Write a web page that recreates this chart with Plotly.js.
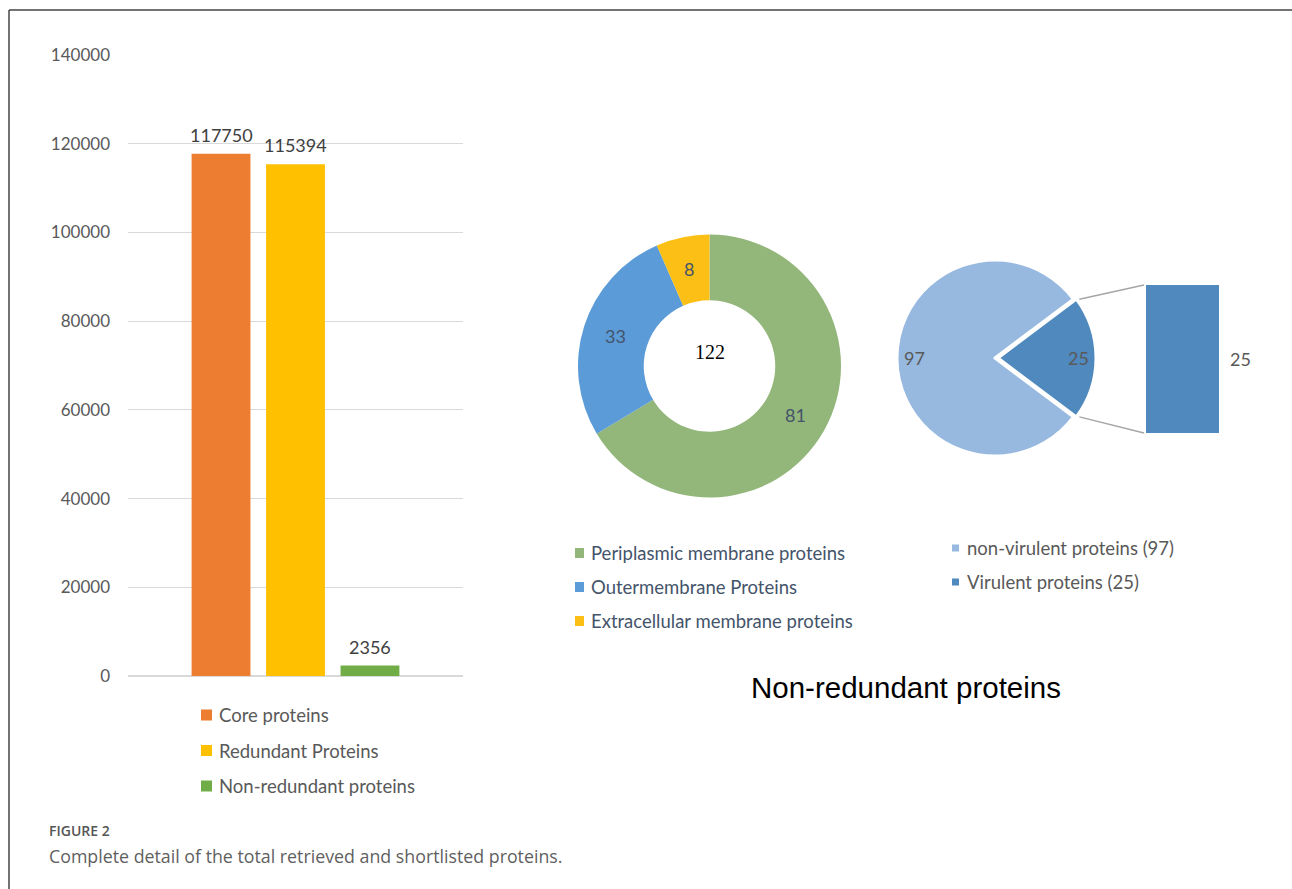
<!DOCTYPE html>
<html>
<head>
<meta charset="utf-8">
<script src="https://cdn.plot.ly/plotly-3.0.1.min.js"></script>
<style>
  html, body { margin: 0; padding: 0; background: #ffffff; }
  #chart { width: 1292px; height: 889px; }
</style>
</head>
<body>
<div id="chart"></div>
<script>
// ---- data ----
const barCategories = ['Core proteins', 'Redundant Proteins', 'Non-redundant proteins'];
const barValues = [117750, 115394, 2356];
const barColors = ['#ed7d31', '#ffc000', '#70ad47'];

const locCategories = ['Periplasmic membrane proteins', 'Outermembrane Proteins', 'Extracellular membrane proteins'];
const locValues = [81, 33, 8];
const locColors = ['#93b67b', '#5b9bd8', '#fbbf16'];

const virCategories = ['non-virulent proteins', 'Virulent proteins'];
const virValues = [97, 25];
const virColors = ['#97b9e0', '#4f89bd'];

const yTicks = [0, 20000, 40000, 60000, 80000, 100000, 120000, 140000];

// ---- page geometry helpers (pixels -> paper fractions) ----
const W = 1292, H = 889;
const px = x => x / W;
const py = y => 1 - y / H;
const FONT = 'Lato, "Open Sans", sans-serif';
const LEGEND_SIZE = 18.5;

const traces = [];
const shapes = [];
const annotations = [];

// ---- clustered bar chart ----
const barSlot = 74.5;       // pixel distance between neighbouring bar centres
barCategories.forEach((name, i) => {
  traces.push({
    type: 'bar', x: ['proteins'], y: [barValues[i]], name: name,
    marker: { color: barColors[i] },
    xaxis: 'x', yaxis: 'y', showlegend: false, hoverinfo: 'skip'
  });
  // value label above each bar
  annotations.push({ xref: 'x', yref: 'y', x: 'proteins', y: barValues[i],
    xshift: (i - 1) * barSlot, yshift: 19, xanchor: 'center', yanchor: 'middle',
    showarrow: false, text: String(barValues[i]),
    font: { family: FONT, size: 18, color: '#404040' } });
});

// bar legend
barCategories.forEach((name, i) => {
  const yc = 715 + i * 35.5;
  shapes.push({ type: 'rect', xref: 'paper', yref: 'paper',
    x0: px(201), x1: px(212), y0: py(yc - 5.5), y1: py(yc + 5.5),
    fillcolor: barColors[i], line: { width: 0 } });
  annotations.push({ xref: 'paper', yref: 'paper', x: px(217), y: py(yc),
    xanchor: 'left', yanchor: 'middle', showarrow: false, text: name,
    font: { family: FONT, size: LEGEND_SIZE, color: '#595959' } });
});

// ---- doughnut: membrane location ----
const donut = { cx: 709.5, cy: 366, r: 131.5, hole: 0.5 };
traces.push({
  type: 'pie', values: locValues, labels: locCategories, hole: donut.hole,
  sort: false, direction: 'clockwise', rotation: 0,
  marker: { colors: locColors, line: { width: 0 } },
  textinfo: 'none', hoverinfo: 'label+value', showlegend: false,
  domain: { x: [px(donut.cx - donut.r), px(donut.cx + donut.r)],
            y: [py(donut.cy + donut.r), py(donut.cy - donut.r)] }
});
const locTotal = locValues.reduce((a, b) => a + b, 0);
{
  let cum = 0;
  const rl = donut.r * (1 + donut.hole) / 2;
  locValues.forEach(v => {
    const ang = (cum + v / 2) / locTotal * 2 * Math.PI;
    cum += v;
    annotations.push({ xref: 'paper', yref: 'paper',
      x: px(donut.cx + rl * Math.sin(ang)), y: py(donut.cy - rl * Math.cos(ang)),
      xanchor: 'center', yanchor: 'middle', showarrow: false, text: String(v),
      font: { family: FONT, size: 18, color: '#44546a' } });
  });
}
annotations.push({ xref: 'paper', yref: 'paper', x: px(donut.cx), y: py(donut.cy - 14),
  xanchor: 'center', yanchor: 'middle', showarrow: false, text: String(locTotal),
  font: { family: '"Liberation Serif", serif', size: 20, color: '#000000' } });

// doughnut legend
locCategories.forEach((name, i) => {
  const yc = 553 + i * 34;
  shapes.push({ type: 'rect', xref: 'paper', yref: 'paper',
    x0: px(575), x1: px(584), y0: py(yc - 5), y1: py(yc + 5),
    fillcolor: locColors[i], line: { width: 0 } });
  annotations.push({ xref: 'paper', yref: 'paper', x: px(589), y: py(yc),
    xanchor: 'left', yanchor: 'middle', showarrow: false, text: name,
    font: { family: FONT, size: LEGEND_SIZE, color: '#44546a' } });
});

// ---- pie of bar: virulence ----
const virTotal = virValues.reduce((a, b) => a + b, 0);
const pullFrac = 0.03;
const pie = { cx: 995, cy: 358, R: 101 };
const pieR = pie.R / (1 + pullFrac);
const virRotation = 90 - (virValues[0] + virValues[1] / 2) / virTotal * 360;
traces.push({
  type: 'pie', values: virValues, labels: virCategories,
  sort: false, direction: 'clockwise', rotation: virRotation,
  pull: [0, pullFrac],
  marker: { colors: virColors, line: { color: '#ffffff', width: 3 } },
  textinfo: 'none', hoverinfo: 'label+value', showlegend: false,
  domain: { x: [px(pie.cx - pie.R), px(pie.cx + pie.R)],
            y: [py(pie.cy + pie.R), py(pie.cy - pie.R)] }
});
{
  let cum = 0;
  virValues.forEach((v, i) => {
    const ang = (virRotation + (cum + v / 2) / virTotal * 360) * Math.PI / 180;
    cum += v;
    const off = i === 1 ? pullFrac * pieR : 0;
    const rl = 0.82 * pieR + off;
    annotations.push({ xref: 'paper', yref: 'paper',
      x: px(pie.cx + rl * Math.sin(ang)), y: py(pie.cy - rl * Math.cos(ang)),
      xanchor: 'center', yanchor: 'middle', showarrow: false, text: String(v),
      font: { family: FONT, size: 18, color: '#595959' } });
  });
}

// secondary bar for the split-out slice
const sideBar = { x0: 1146, x1: 1219, y0: 285, y1: 433 };
traces.push({
  type: 'bar', x: [virCategories[1]], y: [virValues[1]], width: [1],
  marker: { color: virColors[1] }, xaxis: 'x2', yaxis: 'y2',
  showlegend: false, hoverinfo: 'y'
});
annotations.push({ xref: 'paper', yref: 'y2', x: px(1240), y: virValues[1] / 2,
  xanchor: 'center', yanchor: 'middle', showarrow: false, text: String(virValues[1]),
  font: { family: FONT, size: 18, color: '#595959' } });

// connector lines from the slice edges to the bar
{
  const half = virValues[1] / virTotal * Math.PI;
  const off = pullFrac * pieR;
  const ex = pie.cx + off + pieR * Math.cos(half) + 3;
  const dy = pieR * Math.sin(half);
  shapes.push({ type: 'line', xref: 'paper', yref: 'paper',
    x0: px(ex), y0: py(pie.cy - dy), x1: px(sideBar.x0 - 2), y1: py(sideBar.y0),
    line: { color: '#a6a6a6', width: 1.5 } });
  shapes.push({ type: 'line', xref: 'paper', yref: 'paper',
    x0: px(ex), y0: py(pie.cy + dy), x1: px(sideBar.x0 - 2), y1: py(sideBar.y1),
    line: { color: '#a6a6a6', width: 1.5 } });
}

// virulence legend
virCategories.forEach((name, i) => {
  const yc = 548 + i * 34;
  shapes.push({ type: 'rect', xref: 'paper', yref: 'paper',
    x0: px(952), x1: px(959), y0: py(yc - 3.5), y1: py(yc + 3.5),
    fillcolor: virColors[i], line: { width: 0 } });
  annotations.push({ xref: 'paper', yref: 'paper', x: px(965), y: py(yc),
    xanchor: 'left', yanchor: 'middle', showarrow: false,
    text: name + ' (' + virValues[i] + ')',
    font: { family: FONT, size: LEGEND_SIZE, color: '#595959' } });
});

// panel title
annotations.push({ xref: 'paper', yref: 'paper', x: px(906), y: py(687),
  xanchor: 'center', yanchor: 'middle', showarrow: false, text: 'Non-redundant proteins',
  font: { family: '"Liberation Sans", Arial, sans-serif', size: 29.5, color: '#000000' } });

// caption
annotations.push({ xref: 'paper', yref: 'paper', x: px(47), y: py(830),
  xanchor: 'left', yanchor: 'middle', showarrow: false, text: 'FIGURE 2',
  font: { family: '"Open Sans", sans-serif', size: 14, color: '#555555', weight: 600 } });
annotations.push({ xref: 'paper', yref: 'paper', x: px(47), y: py(856),
  xanchor: 'left', yanchor: 'middle', showarrow: false,
  text: 'Complete detail of the total retrieved and shortlisted proteins.',
  font: { family: '"Open Sans", sans-serif', size: 17.8, color: '#5f5f5f' } });

// frame
shapes.push({ type: 'line', xref: 'paper', yref: 'paper', x0: px(9), x1: 1, y0: py(10), y1: py(10),
  line: { color: '#444444', width: 1.5 } });
shapes.push({ type: 'line', xref: 'paper', yref: 'paper', x0: px(9), x1: px(9), y0: py(10), y1: 0,
  line: { color: '#444444', width: 1.5 } });

const layout = {
  width: W, height: H,
  margin: { l: 0, r: 0, t: 0, b: 0 },
  paper_bgcolor: '#ffffff', plot_bgcolor: 'rgba(0,0,0,0)',
  barmode: 'group', bargap: 0.333, bargroupgap: 0.21,
  showlegend: false,
  xaxis: { domain: [px(128), px(463)], showticklabels: false, showgrid: false,
           zeroline: false, showline: false, ticks: '', fixedrange: true },
  yaxis: { domain: [py(676), py(55)], range: [0, 140000], tickvals: yTicks,
           tickformat: 'd', showgrid: true, gridcolor: '#d9d9d9', gridwidth: 1,
           zeroline: true, zerolinecolor: '#d9d9d9', zerolinewidth: 1.5,
           showline: false, ticks: '', ticklabelstandoff: 17,
           tickfont: { family: FONT, size: 17, color: '#595959' }, fixedrange: true },
  xaxis2: { domain: [px(sideBar.x0), px(sideBar.x1)], range: [-0.5, 0.5], type: 'category',
            visible: false, fixedrange: true },
  yaxis2: { domain: [py(sideBar.y1), py(sideBar.y0)], range: [0, virValues[1]],
            visible: false, fixedrange: true },
  shapes: shapes,
  annotations: annotations
};

Plotly.newPlot('chart', traces, layout, { displayModeBar: false, staticPlot: true });
</script>
</body>
</html>
